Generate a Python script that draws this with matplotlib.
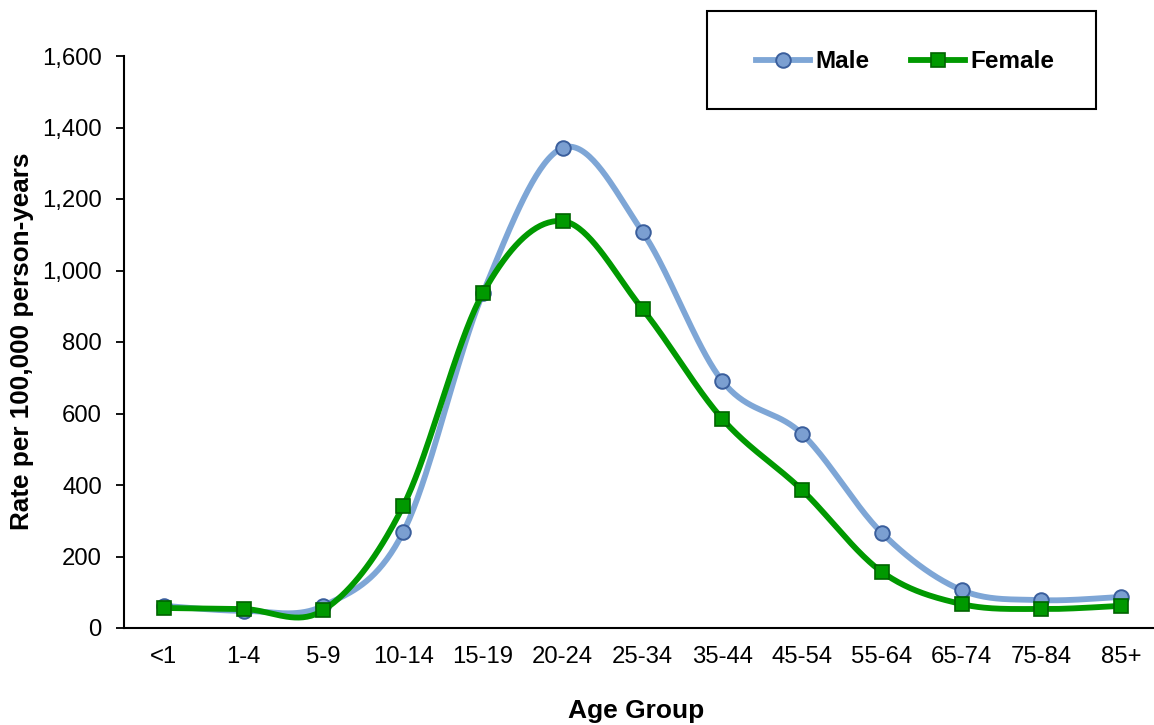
import numpy as np
import matplotlib
matplotlib.use("Agg")
import matplotlib.pyplot as plt
from matplotlib.ticker import FuncFormatter
from matplotlib.lines import Line2D

plt.rcParams['font.family'] = ['Liberation Sans', 'DejaVu Sans']

age_groups = ["<1", "1-4", "5-9", "10-14", "15-19", "20-24", "25-34",
              "35-44", "45-54", "55-64", "65-74", "75-84", "85+"]
male = [62, 48, 62, 268, 937, 1343, 1108, 691, 543, 266, 106, 78, 87]
female = [56, 53, 50, 341, 937, 1138, 892, 585, 386, 157, 67, 53, 62]
y_ticks = [0, 200, 400, 600, 800, 1000, 1200, 1400, 1600]


def smooth_curve(xs, ys, n=40):
    """Cubic Bezier through the points with Catmull-Rom style control points."""
    pts = np.column_stack([xs, ys]).astype(float)
    out = []
    for i in range(len(pts) - 1):
        p0 = pts[i - 1] if i > 0 else pts[i]
        p1 = pts[i]
        p2 = pts[i + 1]
        p3 = pts[i + 2] if i + 2 < len(pts) else pts[i + 1]
        c1 = p1 + (p2 - p0) / 6.0
        c2 = p2 - (p3 - p1) / 6.0
        t = np.linspace(0, 1, n)[:, None]
        seg = ((1 - t) ** 3) * p1 + 3 * ((1 - t) ** 2) * t * c1 \
            + 3 * (1 - t) * (t ** 2) * c2 + (t ** 3) * p2
        out.append(seg if i == 0 else seg[1:])
    seg = np.vstack(out)
    return seg[:, 0], seg[:, 1]


W, H = 1154, 725
fig = plt.figure(figsize=(W / 100, H / 100), dpi=100)
ax = fig.add_axes([124 / W, (H - 628) / H, (W - 124) / W, (628 - 56) / H])

x = np.arange(len(age_groups))

male_line = "#7EA6D6"
male_face = "#7B9FD1"
male_edge = "#3A5E9C"
fem_line = "#009900"
fem_face = "#009900"
fem_edge = "#006400"

mx, my = smooth_curve(x, male)
fx, fy = smooth_curve(x, female)
ax.plot(mx, my, color=male_line, lw=4.2, solid_capstyle="round", zorder=2)
ax.plot(x, male, ls="none", marker="o", ms=10.5, mfc=male_face, mec=male_edge,
        mew=1.4, zorder=3)
ax.plot(fx, fy, color=fem_line, lw=4.2, solid_capstyle="round", zorder=4)
ax.plot(x, female, ls="none", marker="s", ms=10.5, mfc=fem_face, mec=fem_edge,
        mew=1.2, zorder=5)

ax.set_xlim(-0.5, 12.5 - 7 / 79.75)
ax.set_ylim(0, 1600)
ax.set_yticks(y_ticks)
ax.yaxis.set_major_formatter(FuncFormatter(lambda v, p: f"{int(v):,}"))
ax.set_xticks(x)
ax.set_xticklabels(age_groups)

for s in ["top", "right"]:
    ax.spines[s].set_visible(False)
for s in ["left", "bottom"]:
    ax.spines[s].set_linewidth(1.5)
    ax.spines[s].set_color("black")
    ax.spines[s].set_clip_on(False)

ax.tick_params(axis="y", direction="out", length=6, width=1.3, labelsize=17.2,
               pad=10)
ax.tick_params(axis="x", length=0, labelsize=17.2, pad=13)

fig.text(22 / W, 1 - 341 / H, "Rate per 100,000 person-years", rotation=90,
         ha="center", va="center", fontsize=18.8, fontweight="bold")
fig.text(636 / W, 1 - 711 / H, "Age Group", ha="center", va="center",
         fontsize=19, fontweight="bold")

# legend frame and entries
box = plt.Rectangle((707 / W, 1 - 109 / H), (1096 - 707) / W, (109 - 11) / H,
                    transform=fig.transFigure, fill=False, lw=1.5,
                    edgecolor="black")
fig.add_artist(box)
handles = [
    Line2D([], [], color=male_line, lw=4.2, marker="o", ms=10.5, mfc=male_face,
           mec=male_edge, mew=1.4),
    Line2D([], [], color=fem_line, lw=4.2, marker="s", ms=10.5, mfc=fem_face,
           mec=fem_edge, mew=1.2),
]
leg = fig.legend(handles, ["Male", "Female"], loc="center",
                 bbox_to_anchor=(905 / W, 1 - 62 / H), ncol=2, frameon=False,
                 handlelength=2.25, handletextpad=0.2, columnspacing=1.7,
                 prop={"size": 17.5, "weight": "bold"})

fig.savefig("out.png", dpi=100)
